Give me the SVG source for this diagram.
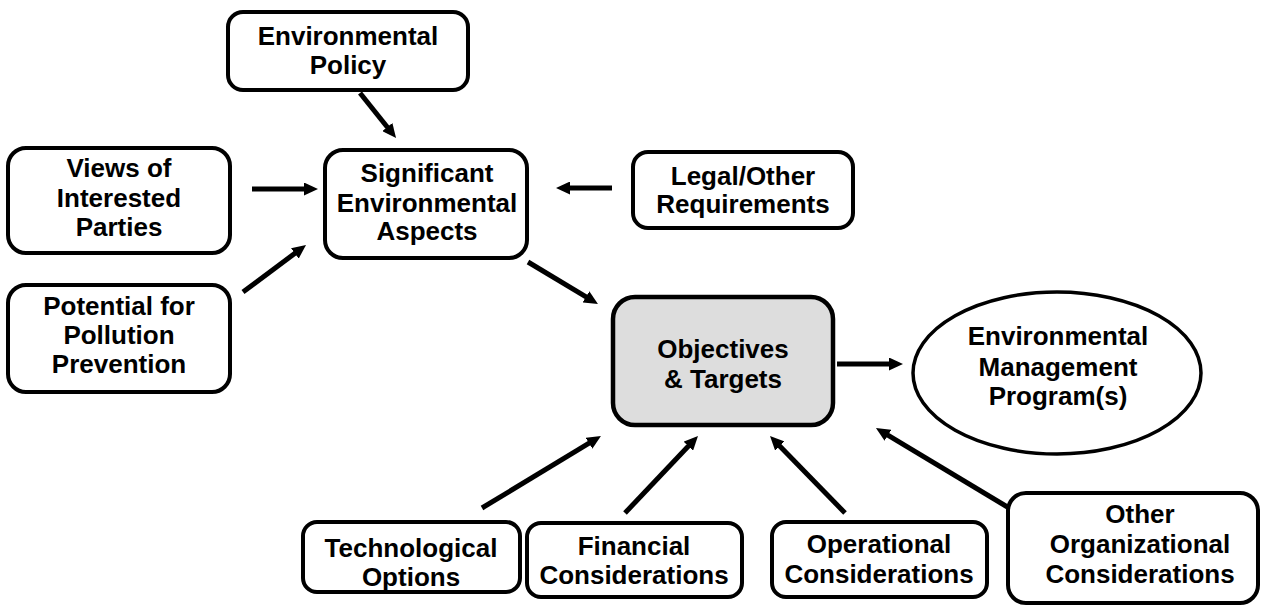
<svg xmlns="http://www.w3.org/2000/svg" width="1264" height="607" viewBox="0 0 1264 607">
<style>
.box{fill:#fff;stroke:#000;stroke-width:4}
.hl{fill:#dddddd;stroke:#000;stroke-width:4.5}
.t{font-family:"Liberation Sans",Arial,sans-serif;font-weight:bold;font-size:26px;fill:#000;text-anchor:middle}
.c{stroke:#000;stroke-width:5;fill:none;marker-end:url(#ah)}
</style>
<defs>
<marker id="ah" markerUnits="userSpaceOnUse" markerWidth="14" markerHeight="13" refX="4" refY="6.5" orient="auto">
<path d="M0,0 L14,6.5 L0,13 z" fill="#000"/>
</marker>
</defs>
<rect width="1264" height="607" fill="#fff"/>
<g id="connectors">
<line class="c" x1="360" y1="93" x2="389.8" y2="130.2"/>
<line class="c" x1="252" y1="189" x2="308" y2="189"/>
<line class="c" x1="243" y1="292" x2="298" y2="251"/>
<line class="c" x1="612" y1="188" x2="566" y2="188"/>
<line class="c" x1="528" y1="262" x2="589.4" y2="298.9"/>
<line class="c" x1="837" y1="364" x2="893" y2="364"/>
<line class="c" x1="482" y1="508" x2="592.4" y2="441.2"/>
<line class="c" x1="625" y1="513" x2="691.1" y2="443.3"/>
<line class="c" x1="845" y1="513" x2="777" y2="443.2"/>
<line class="c" x1="1009" y1="508" x2="884.5" y2="433.2"/>
</g>
<g id="policy">
<rect class="box" x="228" y="12" width="240" height="78" rx="15"/>
<text class="t" x="348" y="45">Environmental</text>
<text class="t" x="348" y="74">Policy</text>
</g>
<g id="aspects">
<rect class="box" x="325" y="150" width="202" height="108" rx="18"/>
<text class="t" x="427" y="182">Significant</text>
<text class="t" x="427" y="212">Environmental</text>
<text class="t" x="427" y="240">Aspects</text>
</g>
<g id="views">
<rect class="box" x="8" y="148" width="222" height="105" rx="18"/>
<text class="t" x="119" y="177">Views of</text>
<text class="t" x="119" y="207">Interested</text>
<text class="t" x="119" y="236">Parties</text>
</g>
<g id="pollution">
<rect class="box" x="8" y="285" width="222" height="107" rx="18"/>
<text class="t" x="119" y="315">Potential for</text>
<text class="t" x="119" y="344">Pollution</text>
<text class="t" x="119" y="373">Prevention</text>
</g>
<g id="legal">
<rect class="box" x="633" y="152" width="220" height="76" rx="15"/>
<text class="t" x="743" y="185">Legal/Other</text>
<text class="t" x="743" y="213">Requirements</text>
</g>
<g id="objectives">
<rect class="hl" x="613" y="297" width="220" height="128" rx="22"/>
<text class="t" x="723" y="358">Objectives</text>
<text class="t" x="723" y="388">&amp; Targets</text>
</g>
<g id="emp">
<ellipse cx="1057" cy="373" rx="144" ry="81" fill="#fff" stroke="#000" stroke-width="3.5"/>
<text class="t" x="1058" y="345">Environmental</text>
<text class="t" x="1058" y="376">Management</text>
<text class="t" x="1058" y="405">Program(s)</text>
</g>
<g id="tech">
<rect class="box" x="303" y="522" width="217" height="70" rx="14"/>
<text class="t" x="411" y="557">Technological</text>
<text class="t" x="411" y="586">Options</text>
</g>
<g id="financial">
<rect class="box" x="527" y="523" width="215" height="74" rx="14"/>
<text class="t" x="634" y="555">Financial</text>
<text class="t" x="634" y="584">Considerations</text>
</g>
<g id="operational">
<rect class="box" x="772" y="522" width="215" height="75" rx="14"/>
<text class="t" x="879" y="553">Operational</text>
<text class="t" x="879" y="583">Considerations</text>
</g>
<g id="other">
<rect class="box" x="1008" y="493" width="250" height="110" rx="18"/>
<text class="t" x="1140" y="523">Other</text>
<text class="t" x="1140" y="553">Organizational</text>
<text class="t" x="1140" y="583">Considerations</text>
</g>
</svg>
